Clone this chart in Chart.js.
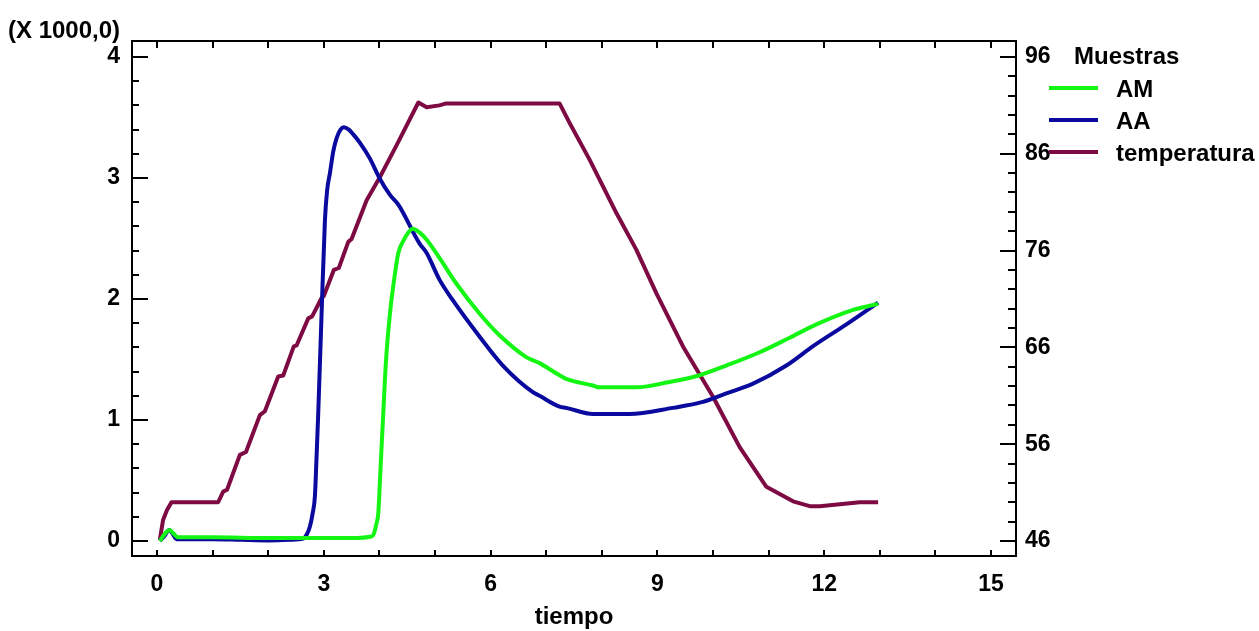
<!DOCTYPE html>
<html lang="es">
<head>
    <meta charset="UTF-8">
    <title>Muestras AM / AA y temperatura</title>
    <script src="https://cdn.jsdelivr.net/npm/chart.js"></script>
    <style>
        body { margin: 0; background: #fff; }
        canvas { display: block; }
    </style>
</head>
<body>
    <canvas id="grafico" width="1259" height="631"></canvas>
    <script>
        // Muestra AM (valores reales, el eje los muestra en miles)
        const tiempoAM = [0.05, 0.08, 0.16, 0.23, 0.30, 0.38, 1.0, 2.0, 3.0, 3.6, 3.83, 3.89, 3.95, 3.98, 4.02, 4.07, 4.12, 4.19, 4.28, 4.34, 4.43, 4.52, 4.60, 4.72, 4.85, 5.08, 5.38, 5.80, 6.16, 6.64, 6.88, 7.24, 7.36, 7.84, 7.96, 8.62, 9.28, 9.40, 9.76, 10.24, 10.84, 11.38, 11.86, 12.52, 12.97];
        const valoresAM = [0, 20, 70, 90, 60, 30, 30, 25, 25, 25, 35, 50, 150, 230, 600, 1060, 1500, 1880, 2210, 2380, 2480, 2550, 2580, 2550, 2490, 2340, 2130, 1880, 1700, 1520, 1470, 1370, 1340, 1285, 1270, 1270, 1320, 1330, 1370, 1450, 1560, 1680, 1790, 1910, 1960];

        // Muestra AA
        const tiempoAA = [0.05, 0.13, 0.22, 0.28, 0.35, 0.6, 1.0, 1.5, 2.0, 2.4, 2.63, 2.70, 2.75, 2.80, 2.84, 2.87, 2.90, 2.96, 3.02, 3.06, 3.11, 3.17, 3.23, 3.30, 3.36, 3.45, 3.53, 3.65, 3.83, 4.0, 4.19, 4.34, 4.72, 4.85, 5.08, 5.32, 5.80, 6.22, 6.76, 6.88, 7.24, 7.36, 7.84, 8.50, 9.28, 9.40, 9.82, 10.24, 10.72, 11.32, 11.80, 12.40, 12.97];
        const valoresAA = [0, 40, 90, 60, 15, 15, 15, 10, 5, 10, 20, 60, 120, 230, 370, 700, 1060, 1880, 2650, 2900, 3040, 3220, 3330, 3400, 3420, 3400, 3360, 3290, 3160, 3000, 2860, 2780, 2460, 2380, 2160, 1990, 1690, 1450, 1230, 1200, 1110, 1100, 1050, 1050, 1100, 1110, 1150, 1220, 1300, 1450, 1610, 1790, 1970];

        // Temperatura (eje derecho)
        const tiempoTemp = [0.05, 0.11, 0.18, 0.26, 1.10, 1.19, 1.26, 1.49, 1.60, 1.85, 1.94, 2.18, 2.27, 2.46, 2.51, 2.72, 2.79, 2.96, 3.0, 3.18, 3.27, 3.44, 3.50, 3.77, 4.01, 4.31, 4.70, 4.85, 5.08, 5.2, 7.24, 7.42, 7.78, 8.26, 8.62, 8.98, 9.46, 10.0, 10.48, 10.96, 11.44, 11.74, 11.92, 12.28, 12.64, 12.97];
        const temperatura = [46.1, 48.2, 49.2, 50.0, 50.0, 51.1, 51.3, 54.9, 55.2, 59.0, 59.4, 63.0, 63.1, 66.1, 66.2, 69.0, 69.2, 71.1, 71.3, 74.0, 74.2, 76.9, 77.2, 81.2, 83.6, 86.9, 91.3, 90.8, 91.0, 91.2, 91.2, 89.2, 85.4, 79.9, 76.1, 71.6, 66.1, 60.9, 55.7, 51.6, 50.1, 49.6, 49.6, 49.8, 50.0, 50.0];

        // Marcas de los ejes
        const ticksTiempo = [0, 1, 2, 3, 4, 5, 6, 7, 8, 9, 10, 11, 12, 13, 14, 15];
        const etiquetasTiempo = [0, 3, 6, 9, 12, 15];
        const ticksMuestras = [0, 1000, 2000, 3000, 4000];
        const ticksTemp = [46, 56, 66, 76, 86, 96];

        const fuente = "'Liberation Sans', Arial, sans-serif";
        const negrita = (size, lh) => ({ family: fuente, size: size, weight: 'bold', lineHeight: lh || 1.2 });

        const puntos = (xs, ys) => xs.map((t, i) => ({ x: t, y: ys[i] }));

        // Marco, marcas de los ejes, rótulo de escala y leyenda
        const marcoPlugin = {
            id: 'marco',
            afterDraw(chart) {
                const ctx = chart.ctx;
                const a = chart.chartArea;
                const sx = chart.scales.x, sy = chart.scales.y, sy2 = chart.scales.y2;
                ctx.save();
                ctx.strokeStyle = '#000';
                ctx.lineWidth = 2;
                ctx.strokeRect(a.left, a.top, a.right - a.left, a.bottom - a.top);

                ctx.beginPath();
                ticksTiempo.forEach(v => {
                    const px = Math.round(sx.getPixelForValue(v));
                    ctx.moveTo(px, a.bottom); ctx.lineTo(px, a.bottom - 6);
                    ctx.moveTo(px, a.top); ctx.lineTo(px, a.top + 7);
                });
                for (let v = 0; v <= 4000; v += 200) {
                    const py = Math.round(sy.getPixelForValue(v));
                    const largo = v % 1000 === 0 ? 16 : 7;
                    ctx.moveTo(a.left, py); ctx.lineTo(a.left + largo, py);
                }
                for (let v = 46; v <= 96; v += 2) {
                    const py = Math.round(sy2.getPixelForValue(v));
                    const largo = (v - 46) % 10 === 0 ? 16 : 8;
                    ctx.moveTo(a.right, py); ctx.lineTo(a.right - largo, py);
                }
                ctx.stroke();

                ctx.fillStyle = '#000';
                ctx.font = 'bold 24px ' + fuente;
                ctx.textBaseline = 'middle';
                ctx.textAlign = 'left';
                ctx.fillText('(X 1000,0)', 8, 31);

                // leyenda
                ctx.fillText('Muestras', 1074, 57);
                chart.data.datasets.forEach((ds, i) => {
                    const y = 88 + i * 32;
                    ctx.strokeStyle = ds.borderColor;
                    ctx.lineWidth = 4;
                    ctx.beginPath();
                    ctx.moveTo(1049, y); ctx.lineTo(1098, y);
                    ctx.stroke();
                    ctx.fillText(ds.label, 1116, y + 2);
                });
                ctx.restore();
            }
        };

        new Chart(document.getElementById('grafico'), {
            type: 'line',
            data: {
                datasets: [
                    { label: 'AM', data: puntos(tiempoAM, valoresAM), borderColor: '#14f514', yAxisID: 'y', cubicInterpolationMode: 'monotone' },
                    { label: 'AA', data: puntos(tiempoAA, valoresAA), borderColor: '#0a0a9e', yAxisID: 'y', cubicInterpolationMode: 'monotone' },
                    { label: 'temperatura', data: puntos(tiempoTemp, temperatura), borderColor: '#7d0a42', yAxisID: 'y2' }
                ]
            },
            options: {
                responsive: false,
                animation: false,
                events: [],
                layout: { padding: { top: 41, left: 0, right: 0, bottom: 0 } },
                elements: {
                    line: { borderWidth: 4, tension: 0, fill: false, borderJoinStyle: 'round' },
                    point: { radius: 0 }
                },
                plugins: { legend: { display: false }, tooltip: { enabled: false } },
                scales: {
                    x: {
                        type: 'linear',
                        min: -0.45,
                        max: 15.45,
                        afterBuildTicks: s => { s.ticks = ticksTiempo.map(v => ({ value: v })); },
                        afterFit: s => { s.height = 75; },
                        grid: { display: false, drawTicks: false },
                        border: { display: false },
                        ticks: {
                            autoSkip: false,
                            maxRotation: 0,
                            padding: 15,
                            color: '#000',
                            font: negrita(23),
                            callback: v => etiquetasTiempo.includes(v) ? String(v) : ''
                        },
                        title: { display: true, text: 'tiempo', color: '#000', font: negrita(24, 1.1), padding: { top: 0, bottom: 0 } }
                    },
                    y: {
                        position: 'left',
                        min: -124,
                        max: 4132,
                        afterBuildTicks: s => { s.ticks = ticksMuestras.map(v => ({ value: v })); },
                        afterFit: s => { s.width = 132; },
                        grid: { display: false, drawTicks: false },
                        border: { display: false },
                        ticks: { padding: 12, color: '#000', font: negrita(23), callback: v => String(v / 1000) }
                    },
                    y2: {
                        position: 'right',
                        min: 44.45,
                        max: 97.65,
                        afterBuildTicks: s => { s.ticks = ticksTemp.map(v => ({ value: v })); },
                        afterFit: s => { s.width = 243; },
                        grid: { display: false, drawTicks: false },
                        border: { display: false },
                        ticks: { padding: 9, color: '#000', font: negrita(23), callback: v => String(v) }
                    }
                }
            },
            plugins: [marcoPlugin]
        });
    </script>
</body>
</html>
